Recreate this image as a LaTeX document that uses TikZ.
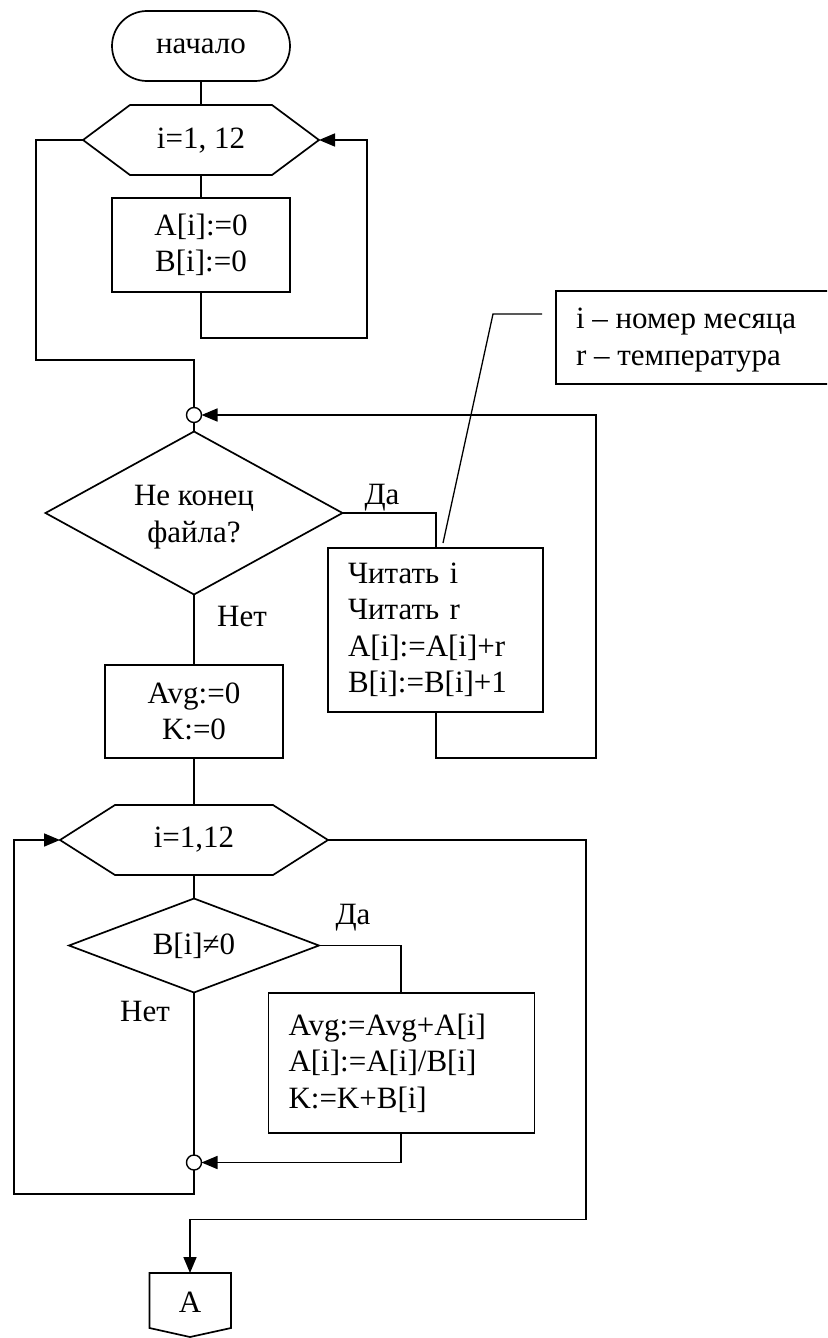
\documentclass[tikz,border=0pt]{standalone}
\usepackage{fontspec}
\setmainfont{Liberation Serif}
\usetikzlibrary{shapes.geometric,arrows.meta}
\begin{document}
\begin{tikzpicture}[x=1pt,y=-1pt,
  line width=1.7pt,
  every node/.style={font=\fontsize{31}{36.5}\selectfont, inner sep=0pt, outer sep=0pt},
  cbox/.style={draw, fill=white, align=center},
  lbox/.style={draw, fill=white, align=left, inner xsep=20pt},
  dec/.style={draw, diamond, fill=white, align=center},
  jn/.style={draw, circle, fill=white, minimum size=15pt, line width=1.4pt},
  arr/.style={-{Triangle[length=16pt,width=13pt]}}
]
\useasboundingbox (0,0) rectangle (827,1338);
\clip (0,0) rectangle (827,1338);

% ---- shapes ----
\node[cbox, rounded corners=35pt, minimum width=178pt, minimum height=70pt] (start) at (201,46) {начало};

% hexagon 1
\coordinate (h1w) at (83,140);  \coordinate (h1e) at (319,140);
\coordinate (h1n) at (201,105); \coordinate (h1s) at (201,175);
\draw (h1w) -- (130,105) -- (272,105) -- (h1e) -- (272,175) -- (130,175) -- cycle;
\node (hex1) at (201,141) {i=1, 12};

\node[cbox, minimum width=178pt, minimum height=94pt] (box1) at (201,245) {A[i]:=0\\B[i]:=0};

\node[jn] (c1) at (194,415) {};

\node[draw, diamond, minimum width=297pt, minimum height=163pt, aspect=1.82] (d1) at (194,513) {};
\node[align=center] (d1t) at (194,517) {Не конец\\файла?};

\node[lbox, text width=175pt, minimum height=164pt] (box2) at (435.5,630) {Читать i\\Читать r\\A[i]:=A[i]+r\\B[i]:=B[i]+1};

\node[cbox, minimum width=178pt, minimum height=93pt] (box3) at (194,711.5) {Avg:=0\\K:=0};

% hexagon 2
\coordinate (h2w) at (60,840);  \coordinate (h2e) at (328,840);
\coordinate (h2n) at (194,805); \coordinate (h2s) at (194,875);
\draw (h2w) -- (115,805) -- (273,805) -- (h2e) -- (273,875) -- (115,875) -- cycle;
\node (hex2) at (194,840) {i=1,12};

\node[dec, minimum width=250pt, minimum height=94pt, aspect=2.67] (d2) at (194,945.5) {B[i]≠0};

\node[lbox, text width=226pt, minimum height=140pt] (box4) at (401.5,1063) {Avg:=Avg+A[i]\\A[i]:=A[i]/B[i]\\K:=K+B[i]};

\node[jn] (c2) at (194,1162.5) {};

% off-page connector
\coordinate (an) at (190,1273);
\draw (149.5,1273) -- (231,1273) -- (231,1328) -- (190,1337) -- (149.5,1328) -- cycle;
\node (conA) at (190,1302) {A};

% comment
\draw (556,291) rectangle (850,384);
\node[anchor=west, align=left] (note) at (576,340) {i – номер месяца\\r – температура};
\coordinate (cm1) at (542,314);
\coordinate (cm2) at (493,314);
\coordinate (cm3) at (443,543);

% labels
\node (da1) at (382,498) {Да};
\node (net1) at (242,616) {Нет};
\node (da2) at (353,918) {Да};
\node (net2) at (145,1011) {Нет};

% ---- connectors ----
\draw (start.south) -- (h1n);
\draw (h1s) -- (box1.north);
\draw[arr] (box1.south) -- (201,338) -- (367,338) -- (367,140) -- (h1e);
\draw (h1w) -- (36,140) -- (36,360) -- (194,360) -- (c1.north);
\draw (c1.south) -- (d1.north);
\draw (d1.east) -- (436,513) -- (box2.north -| 436,0);
\draw[arr] (box2.south -| 436,0) -- (436,758) -- (596,758) -- (596,415) -- (c1.east);
\draw (d1.south) -- (box3.north);
\draw (box3.south) -- (h2n);
\draw (h2s) -- (d2.north);
\draw (d2.east) -- (401,945.5) -- (box4.north -| 401,0);
\draw[arr] (box4.south -| 401,0) -- (401,1162.5) -- (c2.east);
\draw (d2.south) -- (c2.north);
\draw[arr] (c2.south) -- (194,1194) -- (14,1194) -- (14,840) -- (h2w);
\draw[arr] (h2e) -- (586,840) -- (586,1219.5) -- (190,1219.5) -- (an);
\draw[line width=1.3pt] (cm1) -- (cm2) -- (cm3);
\end{tikzpicture}
\end{document}
